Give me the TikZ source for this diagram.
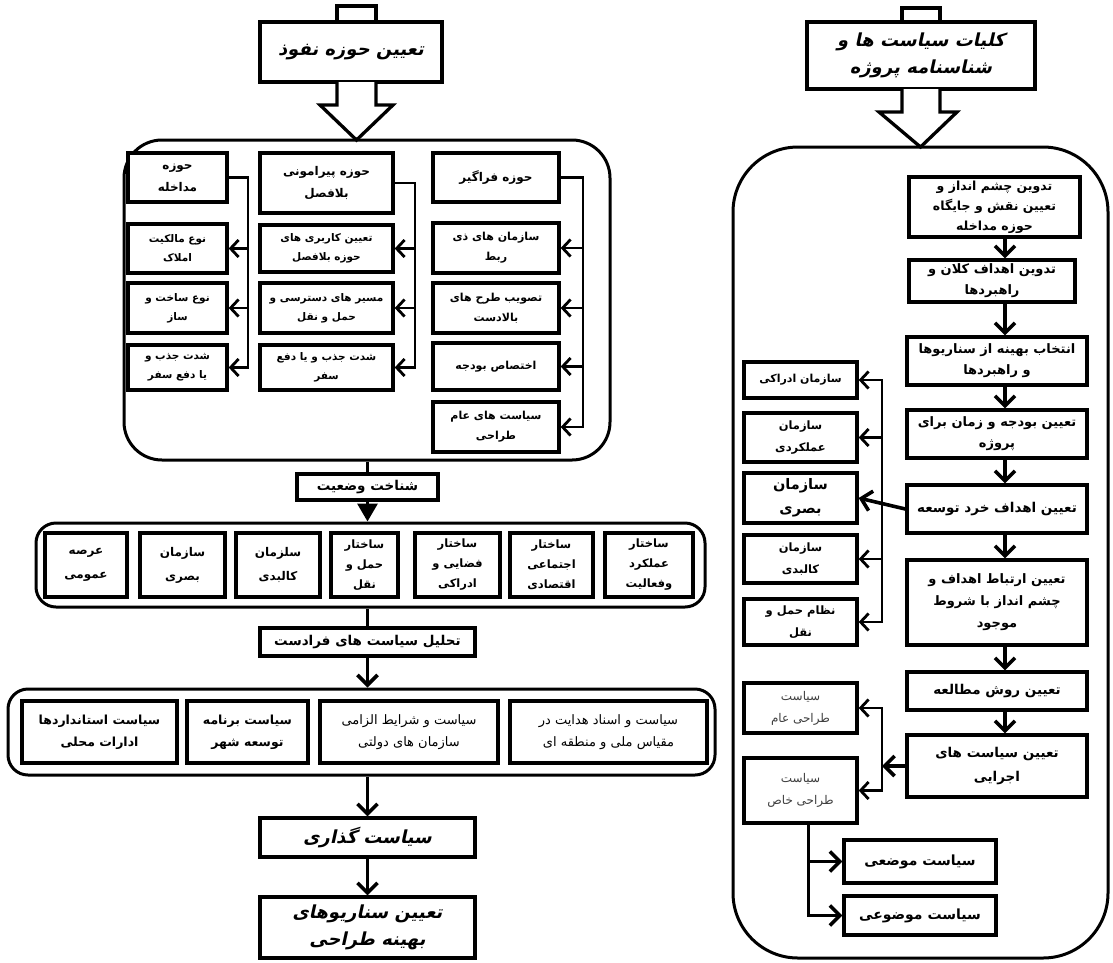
\documentclass[tikz,border=0pt]{standalone}
\usepackage{fontspec}
\usetikzlibrary{arrows.meta,calc}
\TeXXeTstate=1
\newfontfamily\arabicfont[Script=Arabic]{DejaVu Sans}
\newfontfamily\titlefont[Script=Arabic,FakeSlant=0.22]{DejaVu Sans}
\newcommand\pers[1]{\beginR#1\endR}
\newcommand\fsz[2]{\arabicfont\bfseries\fontsize{#1}{#2}\selectfont}
\newcommand\lsz[2]{\arabicfont\fontsize{#1}{#2}\selectfont}
\newcommand\titlef{\titlefont\bfseries\fontsize{18}{27}\selectfont}
\newcommand\mybox[7][]{%
  \pgfmathsetmacro\bw{#5-#3}\pgfmathsetmacro\bh{#6-#4}%
  \node[bx,minimum width=\bw pt,minimum height=\bh pt,#1] (#2) at ({(#3+#5)/2},{(#4+#6)/2}) {#7};}
\begin{document}
\begin{tikzpicture}[x=1pt,y=-1pt,
  bx/.style={draw,line width=3.3pt,fill=white,inner sep=1pt,align=center,font=\fsz{13}{21}},
  small/.style={font=\fsz{10.5}{19}},
  head/.style={font=\fsz{12}{22}},
  cont/.style={fill=none,line width=3pt},
  ln/.style={line width=3.3pt},
  arr/.style={line width=3.6pt,-{Straight Barb[length=10pt,width=20pt]}},
  arrS/.style={line width=2.8pt,-{Straight Barb[length=8pt,width=17pt]}},
  arrSS/.style={line width=2.8pt,{Straight Barb[length=8pt,width=17pt]}-{Straight Barb[length=8pt,width=17pt]}},
  tri/.style={line width=3.3pt,-{Triangle[length=18pt,width=20pt]}},
  hol/.style={line width=3.3pt,fill=white,line join=miter}]
\useasboundingbox (0,0) rectangle (1113,962);

% ================= LEFT =================
\draw[line width=3.3pt,fill=white] (337,6) rectangle (376,22);
\mybox[font=\titlef]{T1}{260}{22}{442}{82}{\pers{تعیین حوزه نفوذ}}
\draw[hol] (337,82) -- (337,105) -- (320,105) -- (356.5,140) -- (393,105) -- (376,105) -- (376,82);
\mybox[cont,rounded corners=38pt]{K1}{124}{140}{610}{460}{}

\mybox[head]{h1}{128}{153}{227}{202}{\pers{حوزه}\\\pers{مداخله}}
\mybox[small]{b11}{128}{224}{227}{273}{\pers{نوع مالکیت}\\\pers{املاک}}
\mybox[small]{b12}{128}{283}{227}{333}{\pers{نوع ساخت و}\\\pers{ساز}}
\mybox[small]{b13}{128}{345}{227}{390}{\pers{شدت جذب و}\\\pers{یا دفع سفر}}

\mybox[head]{h2}{260}{153}{393}{213}{\pers{حوزه پیرامونی}\\\pers{بلافصل}}
\mybox[small]{b21}{260}{225}{393}{272}{\pers{تعیین کاربری های}\\\pers{حوزه بلافصل}}
\mybox[small]{b22}{260}{283}{393}{333}{\pers{مسیر های دسترسی و}\\\pers{حمل و نقل}}
\mybox[small]{b23}{260}{345}{393}{390}{\pers{شدت جذب و یا دفع}\\\pers{سفر}}

\mybox[head]{h3}{433}{153}{559}{202}{\pers{حوزه فراگیر}}
\mybox[font=\fsz{11}{20}]{b31}{433}{223}{559}{273}{\pers{سازمان های ذی}\\\pers{ربط}}
\mybox[font=\fsz{11}{20}]{b32}{433}{283}{559}{333}{\pers{تصویب طرح های}\\\pers{بالادست}}
\mybox[font=\fsz{11}{20}]{b33}{433}{343}{559}{390}{\pers{اختصاص بودجه}}
\mybox[font=\fsz{11}{20}]{b34}{433}{402}{559}{452}{\pers{سیاست های عام}\\\pers{طراحی}}

\coordinate (v1) at (248,0);
\coordinate (v2) at (415,0);
\coordinate (v3) at (583,0);
\draw[arrS] (h1.east) -| (v1 |- b13.east) -- (b13.east);
\draw[arrS] (v1 |- b11.east) -- (b11.east);
\draw[arrS] (v1 |- b12.east) -- (b12.east);
\draw[arrS] (h2.east) -| (v2 |- b23.east) -- (b23.east);
\draw[arrS] (v2 |- b21.east) -- (b21.east);
\draw[arrS] (v2 |- b22.east) -- (b22.east);
\draw[arrS] (h3.east) -| (v3 |- b34.east) -- (b34.east);
\draw[arrS] (v3 |- b31.east) -- (b31.east);
\draw[arrS] (v3 |- b32.east) -- (b32.east);
\draw[arrS] (v3 |- b33.east) -- (b33.east);

\mybox[font=\fsz{13.5}{20}]{sh}{297}{474}{438}{500}{\pers{شناخت وضعیت}}
\mybox[cont,rounded corners=20pt]{K2}{36}{523}{705}{607}{}
\mybox[font=\fsz{11.5}{20}]{p1}{605}{533}{693}{597}{\pers{ساختار}\\\pers{عملکرد}\\\pers{وفعالیت}}
\mybox[font=\fsz{11.5}{20}]{p2}{510}{533}{593}{597}{\pers{ساختار}\\\pers{اجتماعی}\\\pers{اقتصادی}}
\mybox[font=\fsz{11.5}{20}]{p3}{415}{533}{500}{597}{\pers{ساختار}\\\pers{فضایی و}\\\pers{ادراکی}}
\mybox[font=\fsz{11.5}{20}]{p4}{331}{533}{398}{597}{\pers{ساختار}\\\pers{حمل و}\\\pers{نقل}}
\mybox[font=\fsz{12}{24}]{p5}{236}{533}{320}{597}{\pers{سلزمان}\\\pers{کالبدی}}
\mybox[font=\fsz{12}{24}]{p6}{140}{533}{225}{597}{\pers{سازمان}\\\pers{بصری}}
\mybox[font=\fsz{12}{24}]{p7}{45}{533}{127}{597}{\pers{عرصه}\\\pers{عمومی}}

\mybox[font=\fsz{13.5}{20}]{tah}{260}{628}{475}{656}{\pers{تحلیل سیاست های فرادست}}
\mybox[cont,rounded corners=20pt]{K3}{8}{689}{715}{775}{}
\mybox[font=\lsz{13}{22}]{q1}{510}{701}{707}{763}{\pers{سیاست و اسناد هدایت در}\\\pers{مقیاس ملی و منطقه ای}}
\mybox[font=\lsz{13}{22}]{q2}{320}{701}{498}{763}{\pers{سیاست و شرایط الزامی}\\\pers{سازمان های دولتی}}
\mybox[font=\fsz{12.5}{22}]{q3}{187}{701}{308}{763}{\pers{سیاست برنامه}\\\pers{توسعه شهر}}
\mybox[font=\fsz{12.5}{22}]{q4}{22}{701}{177}{763}{\pers{سیاست استانداردها}\\\pers{ادارات محلی}}

\mybox[font=\titlef]{sg}{260}{818}{475}{857}{\pers{سیاست گذاری}}
\mybox[font=\titlef]{sn}{260}{897}{475}{958}{\pers{تعیین سناریوهای}\\\pers{بهینه طراحی}}

\draw[ln] (sh.north |- K1.south) -- (sh.north);
\draw[tri] (sh.south) -- (sh.south |- K2.north);
\draw[ln] (tah.north |- K2.south) -- (tah.north);
\draw[arr] (tah.south) -- (tah.south |- K3.north);
\draw[arr] (sg.north |- K3.south) -- (sg.north);
\draw[arr] (sg.south) -- (sn.north);

% ================= RIGHT =================
\draw[line width=3.3pt,fill=white] (902,8) rectangle (940,22);
\mybox[font=\titlef]{T2}{807}{22}{1035}{89}{\pers{کلیات سیاست ها و}\\\pers{شناسنامه پروژه}}
\draw[hol] (902,89) -- (902,112) -- (879,112) -- (920.5,147) -- (957,112) -- (940,112) -- (940,89);
\mybox[cont,rounded corners=65pt]{K4}{733}{147}{1108}{958}{}

\mybox[font=\fsz{12.5}{20}]{r1}{909}{177}{1080}{237}{\pers{تدوین چشم انداز و}\\\pers{تعیین نقش و جایگاه}\\\pers{حوزه مداخله}}
\mybox{r2}{909}{260}{1075}{302}{\pers{تدوین اهداف کلان و}\\\pers{راهبردها}}
\mybox{r3}{907}{337}{1087}{385}{\pers{انتخاب بهینه از سناریوها}\\\pers{و راهبردها}}
\mybox{r4}{907}{410}{1087}{458}{\pers{تعیین بودجه و زمان برای}\\\pers{پروژه}}
\mybox[font=\fsz{13.5}{21}]{r5}{907}{485}{1087}{533}{\pers{تعیین اهداف خرد توسعه}}
\mybox[font=\fsz{13}{22}]{r6}{907}{560}{1087}{645}{\pers{تعیین ارتباط اهداف و}\\\pers{چشم انداز با شروط}\\\pers{موجود}}
\mybox[font=\fsz{13.5}{21}]{r7}{907}{672}{1087}{710}{\pers{تعیین روش مطالعه}}
\mybox[font=\fsz{13.5}{24}]{r8}{907}{735}{1087}{797}{\pers{تعیین سیاست های}\\\pers{اجرایی}}

\mybox[font=\fsz{11}{20}]{sa}{744}{362}{857}{398}{\pers{سازمان ادراکی}}
\mybox[font=\fsz{11.5}{22}]{sb}{744}{413}{857}{462}{\pers{سازمان}\\\pers{عملکردی}}
\mybox[font=\fsz{14.5}{24}]{sc}{744}{473}{857}{523}{\pers{سازمان}\\\pers{بصری}}
\mybox[font=\fsz{11.5}{22}]{sd}{744}{535}{857}{583}{\pers{سازمان}\\\pers{کالبدی}}
\mybox[font=\fsz{11.5}{22}]{se}{744}{599}{857}{645}{\pers{نظام حمل و}\\\pers{نقل}}

\mybox[font=\lsz{12}{22},text=black!75]{fa}{744}{683}{857}{733}{\pers{سیاست}\\\pers{طراحی عام}}
\mybox[font=\lsz{12}{22},text=black!75]{fb}{744}{758}{857}{823}{\pers{سیاست}\\\pers{طراحی خاص}}
\mybox[font=\fsz{14}{20}]{ha}{844}{840}{996}{883}{\pers{سیاست موضعی}}
\mybox[font=\fsz{14}{20}]{hb}{844}{896}{996}{935}{\pers{سیاست موضوعی}}

\coordinate (ax) at (1005,0);
\coordinate (vx) at (882,0);
\draw[arr] (ax |- r1.south) -- (ax |- r2.north);
\draw[arr] (ax |- r2.south) -- (ax |- r3.north);
\draw[arr] (ax |- r3.south) -- (ax |- r4.north);
\draw[arr] (ax |- r4.south) -- (ax |- r5.north);
\draw[arr] (ax |- r5.south) -- (ax |- r6.north);
\draw[arr] (ax |- r6.south) -- (ax |- r7.north);
\draw[arr] (ax |- r7.south) -- (ax |- r8.north);

\draw[arrSS] (sa.east) -| (vx |- sc.east) |- (se.east);
\draw[arrS] (vx |- sb.east) -- (sb.east);
\draw[arrS] (vx |- sd.east) -- (sd.east);
\draw[arr] (r5.west) -- (sc.east);

\draw[arrSS] (fa.east) -| (vx |- r8.west) |- (fb.east);
\draw[arr] (r8.west) -- (vx |- r8.west);
\draw[arr] ([xshift=8pt]fb.south) |- (ha.west);
\draw[arr] ([xshift=8pt]fb.south) |- (hb.west);
\end{tikzpicture}
\end{document}
